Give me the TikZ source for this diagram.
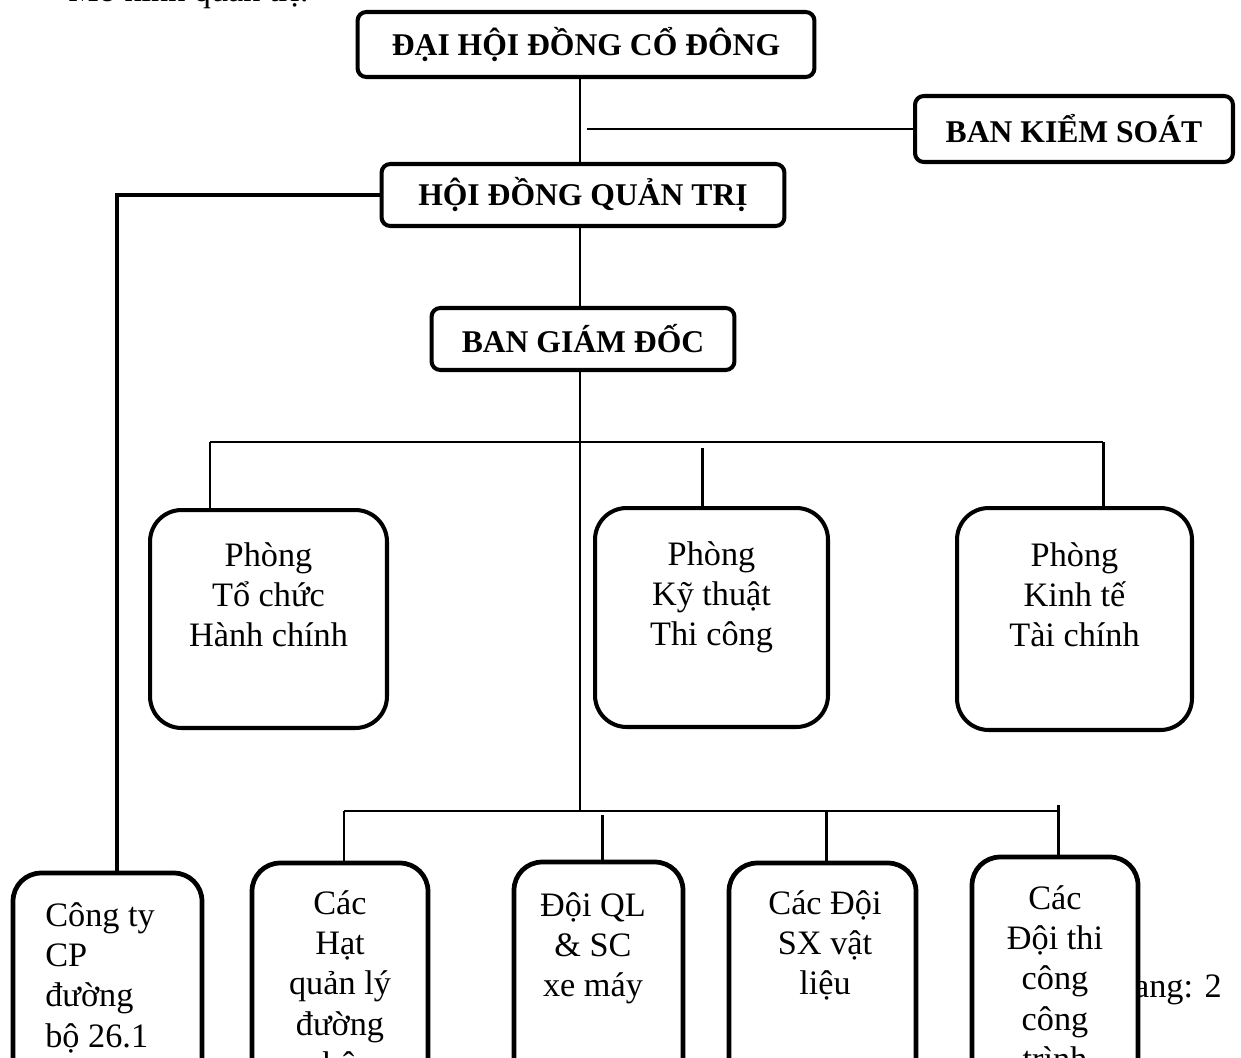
\documentclass[tikz,border=0pt]{standalone}
\usepackage{fontspec}
\setmainfont{Liberation Serif}
\begin{document}
\begin{tikzpicture}[x=0.02cm, y=-0.02cm,
    topbox/.style={draw, line width=2.3pt, rounded corners=5pt, fill=white, inner sep=0pt, font=\bfseries\fontsize{18}{21}\selectfont},
    phong/.style={draw, line width=2.3pt, rounded corners=18pt, fill=white, inner sep=0pt},
    donvi/.style={draw, line width=2.7pt, rounded corners=16pt, fill=white, inner sep=0pt},
    chu/.style={inner sep=0pt, align=center, font=\fontsize{19.5}{22.9}\selectfont},
    link/.style={line width=1.7pt},
    bus/.style={line width=1.4pt}]
    \useasboundingbox (0,0) rectangle (1241,1058);
    \clip (0,0) rectangle (1241,1058);
    \node[chu, anchor=base west] (tieude) at (68,2) {Mô hình quản trị:};
    \node[topbox, minimum width=9.14cm, minimum height=1.3cm] (dhdcd) at (586,44.5) {ĐẠI HỘI ĐỒNG CỔ ĐÔNG};
    \node[topbox, minimum width=6.36cm, minimum height=1.32cm] (bks) at (1074,129) {BAN KIỂM SOÁT};
    \node[topbox, minimum width=8.06cm, minimum height=1.24cm] (hdqt) at (583,195) {HỘI ĐỒNG QUẢN TRỊ};
    \node[topbox, minimum width=6.06cm, minimum height=1.24cm] (bgd) at (583,339) {BAN GIÁM ĐỐC};
    \node[phong, minimum width=4.74cm, minimum height=4.36cm] (tchc) at (268.5,619) {};
    \node[phong, minimum width=4.66cm, minimum height=4.38cm] (ktthicong) at (711.5,617.5) {};
    \node[phong, minimum width=4.70cm, minimum height=4.44cm] (kttc) at (1074.5,619) {};
    \node[chu, anchor=north] (tchcchu) at (tchc.center |- 0,538) {\strut Phòng\\Tổ chức\\Hành chính};
    \node[chu, anchor=north] (ktthicongchu) at (ktthicong.center |- 0,537) {\strut Phòng\\Kỹ thuật\\Thi công};
    \node[chu, anchor=north] (kttcchu) at (kttc.center |- 0,538) {\strut Phòng\\Kinh tế\\Tài chính};
    \node[chu, anchor=base east] (trang) at (1222,997) {Trang: 2};
    \node[donvi, minimum width=3.78cm, minimum height=4.94cm] (cty) at (107.5,996.5) {};
    \node[donvi, minimum width=3.52cm, minimum height=5.14cm] (hat) at (340,991.5) {};
    \node[donvi, minimum width=3.38cm, minimum height=5.16cm] (doiql) at (598.5,991) {};
    \node[donvi, minimum width=3.74cm, minimum height=5.14cm] (doisx) at (822.5,991.5) {};
    \node[donvi, minimum width=3.32cm, minimum height=5.26cm] (thicong) at (1055,988.5) {};
    \node[chu, align=left, anchor=north west] (ctychu) at (45,898) {\strut Công ty\\CP\\đường\\bộ 26.1};
    \node[chu, anchor=north] (hatchu) at (340,886) {\strut Các\\Hạt\\quản lý\\đường\\bộ};
    \node[chu, anchor=north] (doiqlchu) at (593,888) {\strut Đội QL\\\& SC\\xe máy};
    \node[chu, anchor=north] (doisxchu) at (825,886) {\strut Các Đội\\SX vật\\liệu};
    \node[chu, anchor=north] (thicongchu) at (1055,881) {\strut Các\\Đội thi\\công\\công\\trình};
    \coordinate (truc) at (580,0);
    \coordinate (bksgoc) at (587,129);
    \coordinate (ctyvao) at (117,873);
    \coordinate (pA) at (210,442);
    \coordinate (pB) at (702,448);
    \coordinate (pC) at (1103,442);
    \coordinate (dA) at (344,811);
    \coordinate (dB) at (602,815);
    \coordinate (dS) at (826,811);
    \coordinate (dT) at (1058,805);
    \coordinate (dE) at (1060,811);
    \draw[link] (truc |- dhdcd.south) -- (truc |- hdqt.north);
    \draw[bus] (bksgoc) -- (bks.west);
    \draw[line width=2.3pt] (hdqt.west) -| (ctyvao);
    \draw[link] (truc |- hdqt.south) -- (truc |- bgd.north);
    \draw[link] (truc |- bgd.south) -- (truc |- dA);
    \draw[bus] (pA) -- (pC);
    \draw[link] (pA) -- (pA |- tchc.north);
    \draw[link] (pB) -- (pB |- ktthicong.north);
    \draw[link] (pC) -- (pC |- kttc.north);
    \draw[bus] (dA) -- (dE);
    \draw[link] (dA) -- (dA |- hat.north);
    \draw[link] (dB) -- (dB |- doiql.north);
    \draw[link] (dS) -- (dS |- doisx.north);
    \draw[link] (dT) -- (dT |- thicong.north);
\end{tikzpicture}
\end{document}
